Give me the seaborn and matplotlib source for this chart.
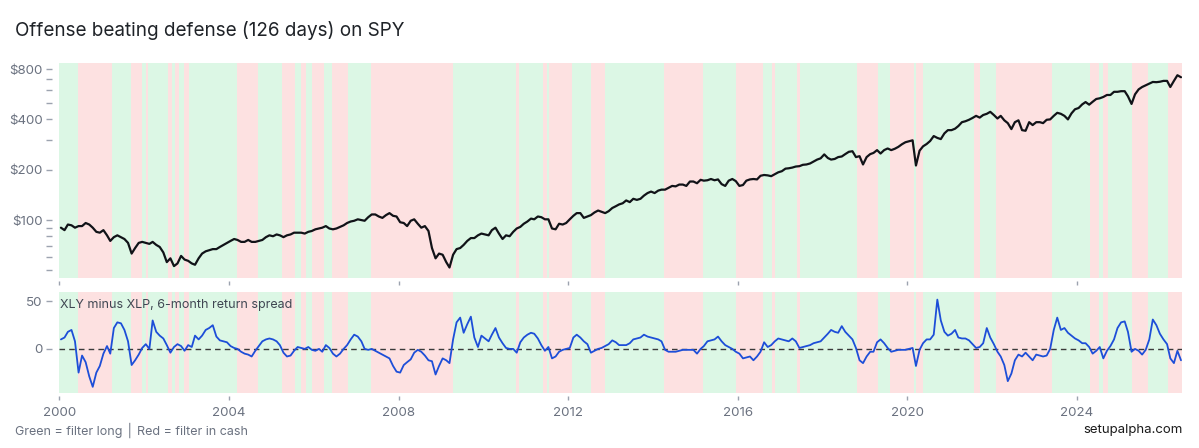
import numpy as np
import pandas as pd
import matplotlib
matplotlib.use("Agg")
import matplotlib.pyplot as plt
import matplotlib.dates as mdates
from matplotlib.ticker import FixedLocator, NullFormatter, FixedFormatter
import seaborn as sns

sns.set_theme(style="white")
plt.rcParams['font.family'] = ['Inter', 'DejaVu Sans']

# ---------------- data ----------------
title = "Offense beating defense (126 days) on SPY"
spread_label = "XLY minus XLP, 6-month return spread"
footer_left = "Green = filter long \u2502 Red = filter in cash"
footer_right = "setupalpha.com"

# SPY (adjusted), one value per month starting Jan 2000
spy_2000 = [90, 87, 94, 93, 90, 92, 92, 96, 94, 90, 85, 84]
spy_2001 = [87, 81, 75, 79, 81, 79, 77, 73, 63, 68, 73, 74]
spy_2002 = [73, 72, 74, 71, 69, 64, 56, 59, 53, 55, 61, 58]
spy_2003 = [57, 55, 54, 59, 63, 65, 66, 67, 67, 69, 71, 73]
spy_2004 = [75, 77, 76, 74, 74, 76, 74, 74, 75, 76, 79, 81]
spy_2005 = [80, 82, 81, 79, 81, 82, 84, 84, 84, 83, 85, 86]
spy_2006 = [88, 89, 90, 92, 89, 88, 89, 91, 93, 96, 98, 99]
spy_2007 = [101, 100, 99, 104, 108, 108, 105, 103, 107, 110, 106, 105]
spy_2008 = [97, 96, 92, 99, 101, 95, 90, 92, 86, 68, 59, 63]
spy_2009 = [62, 56, 52, 62, 67, 68, 71, 75, 78, 78, 81, 83]
spy_2010 = [82, 81, 87, 90, 83, 77, 81, 80, 85, 89, 91, 95]
spy_2011 = [98, 102, 101, 105, 104, 101, 101, 89, 88, 95, 94, 96]
spy_2012 = [101, 106, 110, 110, 103, 105, 107, 111, 114, 112, 110, 113]
spy_2013 = [118, 121, 124, 126, 131, 128, 134, 132, 134, 140, 145, 148]
spy_2014 = [145, 150, 152, 152, 156, 160, 159, 163, 163, 160, 170, 170]
spy_2015 = [166, 174, 172, 173, 176, 173, 175, 164, 160, 172, 176, 171]
spy_2016 = [160, 162, 172, 175, 176, 175, 184, 186, 185, 183, 188, 193]
spy_2017 = [196, 203, 204, 206, 209, 210, 214, 215, 218, 224, 230, 234]
spy_2018 = [247, 235, 230, 232, 238, 240, 248, 256, 258, 238, 241, 215]
spy_2019 = [238, 248, 252, 262, 250, 262, 268, 262, 267, 274, 284, 292]
spy_2020 = [296, 300, 212, 260, 276, 285, 297, 318, 310, 305, 330, 345]
spy_2021 = [345, 352, 365, 385, 390, 398, 408, 420, 410, 425, 432, 444]
spy_2022 = [425, 405, 420, 395, 380, 350, 385, 395, 345, 342, 385, 370]
spy_2023 = [385, 385, 380, 398, 400, 420, 438, 432, 420, 400, 435, 460]
spy_2024 = [468, 492, 508, 490, 510, 530, 535, 545, 560, 560, 585, 585]
spy_2025 = [590, 590, 550, 495, 565, 605, 625, 640, 655, 670, 668, 672]
spy_2026 = [680, 680, 625, 680, 735, 715]

# XLY minus XLP 6-month return spread (%), one value per month
sp_2000 = [10, 12, 18, 20, 8, -25, -7, -14, -29, -40, -25, -18]
sp_2001 = [-5, 3, -5, 22, 28, 27, 20, 8, -17, -12, -6, 1]
sp_2002 = [5, 0, 30, 18, 14, 11, 4, -4, 2, 5, 3, -2]
sp_2003 = [4, 2, 14, 10, 14, 20, 22, 25, 13, 9, 8, 7]
sp_2004 = [3, 1, 0, -3, -5, -6, -8, -2, 3, 8, 10, 11]
sp_2005 = [10, 8, 4, -4, -8, -7, -2, 2, 1, 0, 2, -1]
sp_2006 = [-2, 0, -3, 4, 1, -5, -8, -5, 0, 4, 10, 15]
sp_2007 = [13, 8, 0, -1, 0, -2, -4, -6, -8, -10, -18, -24]
sp_2008 = [-25, -17, -14, -11, -4, -1, -3, -7, -12, -13, -27, -18]
sp_2009 = [-10, -12, -15, 10, 28, 33, 17, 26, 34, 12, 2, 14]
sp_2010 = [11, 8, 15, 22, 12, 6, 1, 0, 0, -4, 7, 12]
sp_2011 = [15, 17, 16, 11, 4, -2, 2, -10, -8, -3, -1, 0]
sp_2012 = [1, 12, 15, 12, 8, 5, -4, -2, 0, 1, 3, 5]
sp_2013 = [9, 7, 4, 4, 4, 6, 10, 11, 12, 15, 13, 12]
sp_2014 = [11, 10, 8, -1, -3, -3, -3, -2, -1, -1, -1, -1]
sp_2015 = [-5, 0, 3, 8, 9, 10, 13, 8, 4, 2, 0, -3]
sp_2016 = [-5, -10, -9, -8, -12, -8, -3, 7, 2, 4, 8, 11]
sp_2017 = [10, 9, 8, 11, 8, 1, 2, 3, 4, 6, 7, 8]
sp_2018 = [12, 16, 20, 18, 17, 24, 18, 14, 10, 1, -12, -15]
sp_2019 = [-8, -3, -3, 7, 10, 6, 1, -3, -2, -1, -1, -1]
sp_2020 = [0, 1, -18, -1, 6, 10, 10, 15, 52, 30, 18, 14]
sp_2021 = [16, 20, 12, 11, 11, 9, 5, 1, 2, 6, 22, 12]
sp_2022 = [5, -3, -8, -17, -34, -26, -12, -6, -8, -4, -8, -12]
sp_2023 = [-6, -7, -8, -7, 0, 20, 33, 20, 22, 17, 14, 11]
sp_2024 = [9, 6, 6, 2, -5, -2, 2, -10, -2, 3, 10, 22]
sp_2025 = [28, 29, 18, -3, 0, -2, -6, -1, 10, 31, 25, 16]
sp_2026 = [10, 5, -10, -15, -2, -12]

# Regime bands: start date of each band and its state
band_starts = [
    "2000-01-01", "2000-06-07", "2001-04-01", "2001-09-09", "2001-12-13",
    "2002-01-19", "2002-02-06", "2002-07-27", "2002-08-29", "2002-09-24",
    "2002-10-30", "2002-12-09", "2003-01-19", "2004-03-07", "2004-09-09",
    "2005-04-06", "2005-07-20", "2005-09-09", "2005-10-23", "2005-12-13",
    "2006-03-29", "2006-06-03", "2006-10-19", "2007-05-08", "2009-04-16",
    "2010-10-12", "2010-11-07", "2011-05-27", "2011-07-02", "2011-07-24",
    "2012-02-03", "2012-07-20", "2012-11-10", "2014-04-08", "2015-03-07",
    "2015-12-20", "2016-08-04", "2016-10-23", "2016-11-18", "2017-05-23",
    "2017-06-17", "2018-10-23", "2019-04-20", "2019-08-04", "2020-02-24",
    "2020-03-17", "2020-05-11", "2021-07-27", "2021-09-17", "2022-01-30",
    "2023-05-27", "2024-04-23", "2024-07-12", "2024-08-10", "2024-09-28",
    "2025-04-17", "2025-09-06", "2026-02-25",
]
band_states = [
    "long", "cash", "long", "cash", "long",
    "cash", "long", "cash", "long", "cash",
    "long", "cash", "long", "cash", "long",
    "cash", "long", "cash", "long", "cash",
    "long", "cash", "long", "cash", "long",
    "cash", "long", "cash", "long", "cash",
    "long", "cash", "long", "cash", "long",
    "cash", "long", "cash", "long", "cash",
    "long", "cash", "long", "cash", "long",
    "cash", "long", "cash", "long", "cash",
    "long", "cash", "long", "cash", "long",
    "cash", "long", "cash",
]
band_end = "2026-06-21"

x_tick_years = [2000, 2004, 2008, 2012, 2016, 2020, 2024]
spy_major_ticks = [100, 200, 400, 800]
spy_minor_ticks = [50, 60, 70, 80, 90, 300, 500, 600, 700]
spread_ticks = [0, 50]

# ---------------- assemble ----------------
spy_values = (spy_2000 + spy_2001 + spy_2002 + spy_2003 + spy_2004 + spy_2005 + spy_2006
              + spy_2007 + spy_2008 + spy_2009 + spy_2010 + spy_2011 + spy_2012 + spy_2013
              + spy_2014 + spy_2015 + spy_2016 + spy_2017 + spy_2018 + spy_2019 + spy_2020
              + spy_2021 + spy_2022 + spy_2023 + spy_2024 + spy_2025 + spy_2026)
spread_values = (sp_2000 + sp_2001 + sp_2002 + sp_2003 + sp_2004 + sp_2005 + sp_2006
                 + sp_2007 + sp_2008 + sp_2009 + sp_2010 + sp_2011 + sp_2012 + sp_2013
                 + sp_2014 + sp_2015 + sp_2016 + sp_2017 + sp_2018 + sp_2019 + sp_2020
                 + sp_2021 + sp_2022 + sp_2023 + sp_2024 + sp_2025 + sp_2026)
dates = pd.date_range("2000-01-01", periods=len(spy_values), freq="MS") + pd.Timedelta(days=14)
df = pd.DataFrame({"date": dates, "spy": spy_values, "spread": spread_values})

GREEN = "#dcf7e5"
RED = "#fde1e1"
TICK_LABEL = "#6b7280"
TICK_MARK = "#9ca3af"

fig = plt.figure(figsize=(11.99, 4.48), dpi=100)
ax1 = fig.add_axes([59.3 / 1199, 1 - 278 / 448, 1122.4 / 1199, 215 / 448])
ax2 = fig.add_axes([59.3 / 1199, 1 - 393 / 448, 1122.4 / 1199, 101 / 448])

edges = list(pd.to_datetime(band_starts)) + [pd.Timestamp(band_end)]
for ax in (ax1, ax2):
    for s, e, st in zip(edges[:-1], edges[1:], band_states):
        ax.axvspan(s, e, color=GREEN if st == "long" else RED, lw=0, zorder=0)

sns.lineplot(data=df, x="date", y="spy", ax=ax1, color="#111318", lw=1.6, zorder=3)
sns.lineplot(data=df, x="date", y="spread", ax=ax2, color="#1d4ed8", lw=1.3, zorder=3)
ax2.axhline(0, color="#3a3a3a", lw=1.0, ls=(0, (4, 3)), zorder=2)

xmin, xmax = pd.Timestamp("2000-01-01"), pd.Timestamp(band_end)
tick_dates = [pd.Timestamp(f"{y}-01-01") for y in x_tick_years]
for ax in (ax1, ax2):
    ax.set_xlim(xmin, xmax)
    ax.set_xlabel("")
    ax.set_ylabel("")
    ax.xaxis.set_major_locator(FixedLocator(mdates.date2num(tick_dates)))
    ax.spines["left"].set_position(("outward", 5))
    ax.spines["bottom"].set_position(("outward", 2))
    for sp in ax.spines.values():
        sp.set_visible(False)
    ax.tick_params(axis="y", which="both", left=True, length=4, width=1,
                   color=TICK_MARK, labelcolor=TICK_LABEL, labelsize=9.6, pad=3)
    ax.tick_params(axis="x", which="both", bottom=True, length=3, width=1,
                   color=TICK_MARK, labelcolor=TICK_LABEL, labelsize=9.6, pad=5)

ax1.set_yscale("log")
ax1.set_ylim(45, 870)
ax1.yaxis.set_major_locator(FixedLocator(spy_major_ticks))
ax1.yaxis.set_major_formatter(FixedFormatter([f"${v}" for v in spy_major_ticks]))
ax1.yaxis.set_minor_locator(FixedLocator(spy_minor_ticks))
ax1.yaxis.set_minor_formatter(NullFormatter())
ax1.tick_params(axis="x", labelbottom=False)

ax2.set_ylim(-46.5, 60)
ax2.yaxis.set_major_locator(FixedLocator(spread_ticks))
ax2.xaxis.set_major_formatter(FixedFormatter([str(y) for y in x_tick_years]))
ax2.text(0.001, 0.875, spread_label, transform=ax2.transAxes, ha="left", va="center",
         fontsize=9, color="#3f4652", zorder=5)

fig.text(15 / 1199, 1 - 31 / 448, title, ha="left", va="center", fontsize=13.6, color="#1f2328")
fig.text(15 / 1199, 1 - 430 / 448, footer_left, ha="left", va="center", fontsize=9, color=TICK_LABEL)
fig.text(1183 / 1199, 1 - 430 / 448, footer_right, ha="right", va="center", fontsize=9.5, color="#1a1a1a")

fig.savefig("out.png", dpi=100)
